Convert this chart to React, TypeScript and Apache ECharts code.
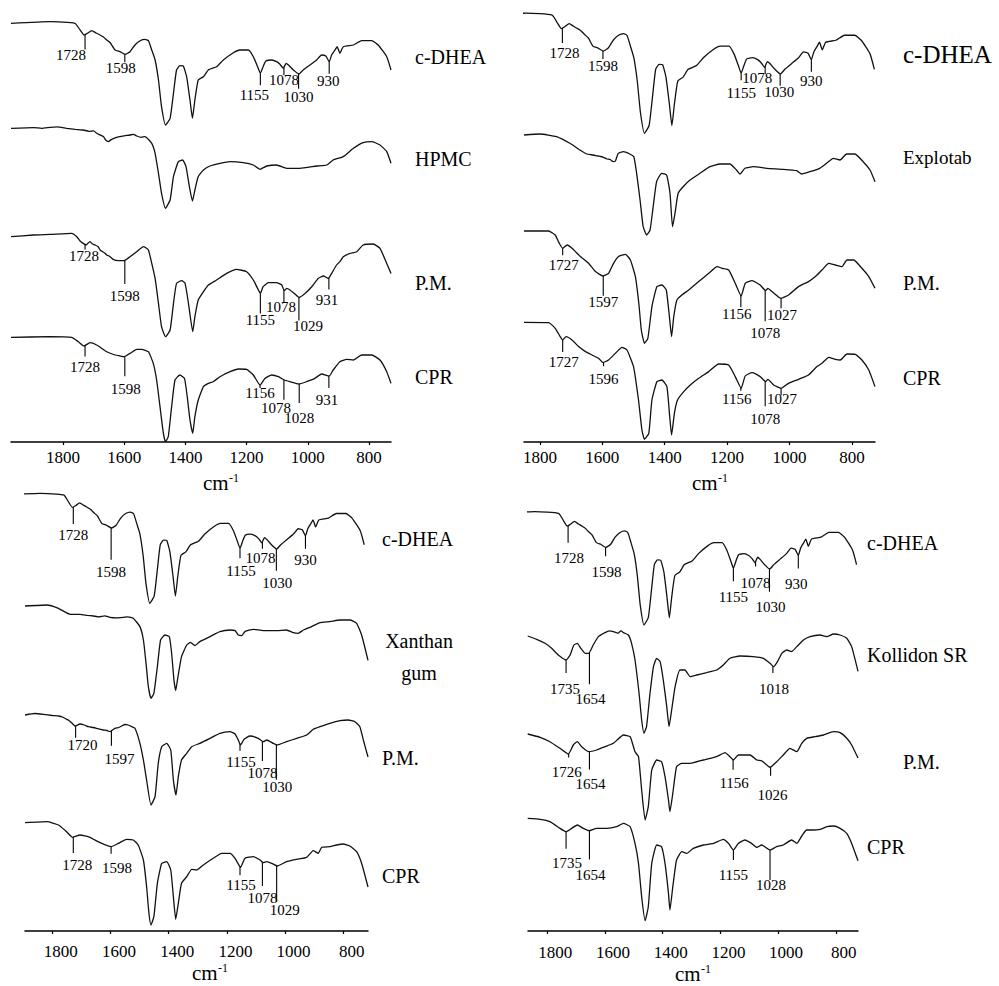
import React, { useEffect, useRef } from "react";
import * as echarts from "echarts";

type Pt = [number, number];
type Peak = [number, number, number, number]; // wavenumber, line length, label dx, label dy

// x tick labels (cm-1)
const TICKS = [1800, 1600, 1400, 1200, 1000, 800];

// Spectra: [wavenumber cm-1, transmittance a.u. (0 = deepest band of the trace)]
const C_DHEA: Pt[] = [[1970,101.7],[1842,103.3],[1761,101.7],[1744,95],[1731,90],[1720,91.7],[1706,94.3],[1692,92],[1679,90],[1668,88],[1657,85],[1645,82],[1630,75],[1614,73.3],[1597,70.7],[1581,73.3],[1565,80],[1548,84.3],[1532,85.7],[1521,84.3],[1510,75],[1499,65],[1488,45],[1478,18.3],[1465,0],[1450,6.7],[1439,31.7],[1429,55],[1418,59.3],[1407,59],[1396,48.3],[1385,25],[1377,6.7],[1369,25],[1358,45],[1341,48.3],[1325,55],[1298,58.3],[1276,65],[1243,72.3],[1222,75],[1194,75],[1178,68.3],[1164,58.3],[1155,51.7],[1146,58.3],[1137,64],[1118,65],[1102,63.3],[1091,60.7],[1080,56.7],[1071,61.7],[1063,60],[1047,55],[1029,51],[1015,55],[993,60],[971,65],[955,70],[941,69],[930,63.3],[922,70],[911,75],[904,78.3],[895,71.7],[884,78.3],[851,80],[824,84.3],[791,84.3],[770,80],[742,68.3],[728,55]];

const HPMC: Pt[] = [[1970,80],[1897,80.7],[1870,80],[1842,81],[1820,81.5],[1788,80],[1760,79],[1734,78.3],[1715,77],[1700,77.5],[1690,75],[1668,71.7],[1660,68],[1652,66.7],[1641,69],[1625,71],[1614,71.7],[1600,72.5],[1581,73.3],[1570,74],[1559,72.3],[1545,71],[1532,71.7],[1510,65],[1499,55],[1488,35],[1478,15],[1465,0],[1450,8.3],[1439,31.7],[1423,46.7],[1409,48.3],[1398,41.7],[1387,21.7],[1377,7.3],[1369,18.3],[1358,31.7],[1341,38.3],[1320,42.3],[1287,45],[1254,46.7],[1211,45.7],[1178,43.3],[1156,39],[1134,42.3],[1102,43.3],[1069,40],[1026,40],[971,42.3],[938,43.3],[917,48.3],[884,51.7],[851,60],[819,65.7],[791,66.7],[764,63.3],[742,56.7],[728,45]];

const PM_HPMC: Pt[] = [[1970,100],[1897,101.7],[1842,102.3],[1772,103.3],[1755,100],[1745,96],[1734,93.3],[1725,91.7],[1712,95],[1705,93],[1695,91.7],[1685,90],[1679,86.7],[1665,84],[1657,81.7],[1648,80.5],[1636,77.3],[1619,76],[1601,76],[1581,80],[1559,85],[1537,90],[1521,86.7],[1510,73.3],[1499,58.3],[1488,33.3],[1478,10],[1465,0],[1450,6.7],[1439,33.3],[1429,53.3],[1412,56],[1401,53.3],[1390,33.3],[1376,5],[1369,20],[1358,36.7],[1341,45],[1325,51.7],[1298,56.7],[1265,63.3],[1233,67.3],[1200,65],[1178,56.7],[1164,48.3],[1155,43.3],[1146,50],[1129,54],[1102,54],[1085,51.7],[1077,46],[1069,48.3],[1058,46.7],[1042,42.7],[1029,39.3],[1009,43.3],[987,50],[966,58.3],[949,60.7],[933,58.3],[922,63.3],[906,71.7],[895,75],[884,80],[862,83.3],[840,85],[819,91.7],[786,92.7],[764,88.3],[742,73.3],[728,63.3]];

const CPR_HPMC: Pt[] = [[1970,104.3],[1842,105],[1772,104.3],[1750,100],[1731,95.7],[1712,99],[1690,96.7],[1657,90],[1630,86.7],[1614,85.7],[1600,85],[1581,88.3],[1559,92.3],[1543,92.3],[1521,90],[1505,78.3],[1494,61.7],[1483,35],[1472,8.3],[1465,0],[1456,5],[1445,35],[1434,61.7],[1418,66.7],[1403,63.3],[1394,45],[1385,21.7],[1376,8.3],[1369,25],[1358,41.7],[1341,55],[1325,58.3],[1309,60],[1287,65],[1254,70],[1227,72.7],[1200,72.3],[1178,66.7],[1156,56.7],[1140,63.3],[1118,66.7],[1096,65],[1077,61.7],[1058,60],[1029,57.7],[1004,60],[977,63.3],[955,67.7],[930,65.7],[917,71.7],[895,80],[873,82.3],[851,81.7],[824,86.7],[791,86.7],[764,81.7],[742,70],[728,58.3]];

const EXPLOTAB: Pt[] = [[1851,100],[1800,101],[1747,98.3],[1704,91.7],[1672,85],[1650,81],[1629,80],[1615,79],[1605,78.5],[1597,77.7],[1585,76],[1575,75.5],[1565,73.3],[1558,74],[1549,81.7],[1533,83.3],[1512,81],[1499,78.3],[1490,61.7],[1479,35],[1469,8.3],[1458,0],[1447,5],[1437,28.3],[1426,53.3],[1410,61.7],[1394,60],[1383,41.7],[1375,8.3],[1367,21.7],[1357,41.7],[1341,48.3],[1319,55],[1287,61.7],[1255,68.3],[1223,71],[1191,71],[1170,65],[1159,61],[1143,66.7],[1116,68.3],[1073,66.7],[1020,65.7],[977,64.3],[961,61],[935,63.3],[903,66.7],[881,71.7],[860,76.7],[838,75],[817,81],[790,81],[764,73.3],[742,65],[726,53.3]];

const PM_EXPLOTAB: Pt[] = [[1851,112.3],[1772,112.3],[1751,108.3],[1738,100],[1727,95],[1713,98.3],[1697,95],[1670,86.7],[1644,80],[1622,71.7],[1598,67.3],[1580,70],[1564,80],[1548,86.7],[1526,89],[1510,83.3],[1494,66.7],[1483,40],[1475,13.3],[1465,0],[1454,5],[1441,36.7],[1425,56.7],[1409,58.3],[1395,53.3],[1385,26.7],[1378,6.7],[1371,26.7],[1361,43.3],[1345,48.3],[1323,53.3],[1291,61.7],[1259,70],[1232,76.7],[1216,75],[1195,73.3],[1174,60],[1155,47.3],[1142,60],[1120,62.7],[1094,58.3],[1077,52.7],[1069,55],[1056,51.7],[1027,45],[1003,48.3],[971,56.7],[939,61.7],[917,66.7],[896,73.3],[874,80],[853,78.3],[832,76.7],[816,83.3],[794,83.3],[768,75],[746,66.7],[726,55]];

const CPR_EXPLOTAB: Pt[] = [[1851,117],[1772,116.7],[1751,111],[1735,102.7],[1727,99.3],[1716,102.7],[1697,99.3],[1676,92.7],[1654,87.7],[1633,84.3],[1612,81],[1598,76.7],[1580,79.3],[1558,86],[1537,92],[1521,89.3],[1500,72.7],[1484,39.3],[1473,9.3],[1465,0],[1451,6],[1441,39.3],[1425,57.7],[1409,59.3],[1393,52.7],[1384,22.7],[1378,4.3],[1369,26],[1359,39.3],[1339,47.7],[1318,54.3],[1291,61],[1259,67.7],[1227,75.3],[1195,74.3],[1174,62.7],[1155,51],[1142,63.3],[1120,66.7],[1094,62.7],[1077,57.7],[1069,60],[1051,54.3],[1027,51],[1003,56],[971,60],[939,64.3],[912,72.7],[896,76],[874,82],[853,80],[837,79.3],[816,85.3],[789,85],[768,79.3],[746,69.3],[726,52.7]];

const XANTHAN: Pt[] = [[1894,92.3],[1819,93.3],[1779,90],[1739,84],[1705,84],[1680,83],[1659,82.3],[1640,81.5],[1620,82.5],[1602,81],[1580,80.5],[1556,81],[1540,81.5],[1522,80],[1499,71.7],[1487,58.3],[1478,35],[1470,11.7],[1461,0],[1451,5],[1439,31.7],[1428,58.3],[1413,63.3],[1398,61.7],[1390,45],[1382,18.3],[1376,7.7],[1370,18.3],[1356,41.7],[1338,53.3],[1325,56],[1310,52.7],[1293,56.7],[1258,61.7],[1224,66.7],[1189,68.3],[1172,67.7],[1161,63.3],[1149,62.7],[1138,66.7],[1109,69],[1075,67.7],[1029,67.7],[995,68.3],[972,65.7],[955,65],[937,68.3],[909,71.7],[880,75.7],[846,76.7],[811,78.3],[777,78.3],[754,75],[737,63.3],[715,38]];

const PM_XANTHAN: Pt[] = [[1894,90],[1860,91.5],[1831,90.7],[1800,89.5],[1779,89],[1765,88],[1751,85.7],[1745,85],[1734,82.3],[1722,79],[1705,81],[1690,80],[1676,78.3],[1660,77.5],[1648,76.7],[1625,75],[1612,74.5],[1602,73.3],[1585,76.7],[1572,77.5],[1562,79],[1550,80.5],[1539,80],[1528,78.5],[1516,76.7],[1499,61.7],[1487,45],[1476,25],[1461,0],[1447,8.3],[1436,41.7],[1424,58.3],[1407,61.7],[1393,55],[1384,25],[1375,10],[1367,28.3],[1356,45],[1338,51.7],[1321,58.3],[1293,61.7],[1258,66.7],[1224,71.7],[1189,73.3],[1172,71],[1161,65],[1153,60],[1141,65.7],[1121,69],[1092,66.7],[1075,63.3],[1063,65],[1041,61.7],[1027,60],[995,63.3],[960,66.7],[926,70],[903,75.7],[880,78.3],[846,81.7],[811,84.3],[783,85],[760,83.3],[743,78.3],[731,65],[715,48]];

const CPR_XANTHAN: Pt[] = [[1894,102.3],[1819,103.3],[1779,100],[1751,93.3],[1730,87.7],[1705,90],[1671,87.7],[1636,82.3],[1598,78.3],[1573,81.7],[1545,85.7],[1522,85],[1505,80],[1487,65],[1476,38.3],[1468,11.7],[1461,0],[1451,8.3],[1439,41.7],[1424,61.7],[1407,63.3],[1393,55],[1384,28.3],[1376,5.7],[1367,21.7],[1356,41.7],[1338,48.3],[1321,55.7],[1304,55],[1281,60],[1247,66.7],[1218,71.7],[1189,71.7],[1172,66.7],[1153,57.7],[1138,66.7],[1109,68.3],[1086,65],[1075,62.3],[1063,63.3],[1046,61.7],[1027,59],[995,63.3],[960,65.7],[926,67.7],[903,74.3],[886,71.7],[874,77.7],[846,78.3],[823,80],[800,81],[777,79],[754,73.3],[737,61.7],[715,38]];

const KOLLIDON: Pt[] = [[1868,97.3],[1837,94],[1808,90],[1785,85],[1762,78.3],[1735,73.3],[1721,78.3],[1708,88.3],[1696,90],[1684,85],[1669,80],[1656,80],[1641,88.3],[1623,96.7],[1600,100.7],[1585,102.5],[1571,101.7],[1555,100],[1545,102.5],[1536,100.7],[1519,98.3],[1508,90],[1496,73.3],[1482,40],[1473,13.3],[1465,0],[1456,6.7],[1444,40],[1432,66.7],[1421,75],[1409,71.7],[1398,53.3],[1386,26.7],[1378,6.7],[1369,23.3],[1357,46.7],[1340,63.3],[1323,63.3],[1305,56.7],[1282,58.3],[1248,60.7],[1213,63.3],[1190,68.3],[1167,75],[1132,77.3],[1086,76.7],[1051,75],[1028,70],[1016,66.7],[1002,71.7],[987,80],[970,83.3],[953,81.7],[935,86.7],[912,93.3],[889,96.7],[855,98.3],[831,96.7],[808,99.3],[785,98.3],[762,95],[745,86.7],[723,62]];

const PM_KOLLIDON: Pt[] = [[1868,86],[1825,82.7],[1791,78.3],[1756,71.7],[1727,66],[1710,75],[1696,78.3],[1681,73.3],[1656,68.3],[1629,70],[1600,73.3],[1571,76.7],[1536,85],[1513,83.3],[1496,68.3],[1484,63.3],[1473,30],[1461,0],[1450,13.3],[1438,50],[1421,60],[1404,58.3],[1392,43.3],[1380,20],[1375,8.3],[1365,26.7],[1352,53.3],[1334,56.7],[1305,56.7],[1259,60],[1213,63.3],[1184,67.3],[1167,63.3],[1155,60],[1138,65],[1120,65],[1097,65],[1074,60],[1057,59.3],[1028,52.7],[1005,58.3],[982,65],[959,71.7],[935,68.3],[918,76.7],[901,81.7],[872,83.3],[843,85],[808,88.3],[785,87.3],[762,81.7],[745,75],[723,62]];

const CPR_KOLLIDON: Pt[] = [[1868,102.3],[1825,101.3],[1791,99],[1756,92.3],[1735,89],[1716,92.3],[1696,95.7],[1675,92.3],[1656,90],[1629,92.3],[1594,92.3],[1560,94],[1536,97.3],[1513,94],[1496,77.3],[1484,57.3],[1473,24],[1461,0],[1450,14],[1438,57.3],[1421,75.7],[1404,74],[1392,57.3],[1380,27.3],[1375,10.7],[1365,34],[1352,60.7],[1334,69],[1317,67.3],[1294,72.3],[1259,75.7],[1224,77.3],[1190,81.3],[1172,77.3],[1155,70.7],[1138,77.3],[1115,80.7],[1092,77.3],[1074,73.3],[1057,75.7],[1028,70.7],[1005,74],[982,75.7],[953,80.7],[935,77.3],[918,84.7],[901,90.7],[878,90.7],[855,91.3],[831,94],[808,94.7],[785,92.3],[762,87.3],[745,77.3],[723,60]];

// Peak annotations: [wavenumber, line length px, label dx px, label dy px]
const PK_DHEA_A: Peak[] = [[1728,15,-14,20],[1598,8,-4,14],[1155,12,-6,22],[1078,8,0,13],[1030,15,0,23],[930,12,-1,19]];
const PK_PM_A: Peak[] = [[1728,5,-1,12],[1598,24,0,36],[1155,20,0,27],[1078,12,-3,17],[1029,23,9,29],[931,12,-2,23]];
const PK_CPR_A: Peak[] = [[1728,11,0,22],[1598,20,1,33],[1156,3,0,8],[1078,20,-8,28],[1028,19,0,34],[931,12,-2,24]];
const PK_DHEA_B: Peak[] = [[1728,15,2,25],[1598,8,0,15],[1155,7,0,20],[1078,8,-8,12],[1030,12,-1,18],[930,12,0,21]];
const PK_PM_B: Peak[] = [[1727,7,1,17],[1597,20,0,26],[1156,12,-4,19],[1078,31,0,43],[1027,10,1,17]];
const PK_CPR_B: Peak[] = [[1727,12,1,22],[1596,4,0,17],[1156,3,-4,11],[1078,25,0,38],[1027,7,1,11]];
const PK_DHEA_C: Peak[] = [[1728,17,0,28],[1598,32,0,44],[1155,10,1,23],[1078,7,-2,16],[1030,22,1,34],[930,13,0,24]];
const PK_PM_C: Peak[] = [[1720,12,7,19],[1597,15,8,28],[1155,7,1,18],[1078,20,0,32],[1030,35,1,42]];
const PK_CPR_C: Peak[] = [[1728,16,4,28],[1598,7,6,21],[1155,9,1,19],[1078,24,0,36],[1029,36,8,44]];
const PK_DHEA_D: Peak[] = [[1728,17,1,32],[1598,9,1,25],[1155,13,0,29],[1078,5,0,21],[1030,23,1,38],[930,13,-2,29]];
const PK_KOL_D: Peak[] = [[1735,13,-1,29],[1654,32,1,47],[1018,7,1,23]];
const PK_PM_D: Peak[] = [[1726,4,-2,19],[1654,18,1,32],[1156,10,1,23],[1026,9,2,28]];
const PK_CPR_D: Peak[] = [[1735,17,1,31],[1654,29,1,44],[1155,10,0,25],[1028,30,1,35]];

const NAMES_A = ["c-DHEA", "HPMC", "P.M.", "CPR"];
const NAMES_B = ["c-DHEA", "Explotab", "P.M.", "CPR"];
const NAMES_C = ["c-DHEA", "Xanthan\ngum", "P.M.", "CPR"];
const NAMES_D = ["c-DHEA", "Kollidon SR", "P.M.", "CPR"];

const FONT = "Liberation Serif";

type Trace = { data: Pt[]; base: number; scale: number; peaks: Peak[] };
type Panel = {
  grid: { left: number; top: number; width: number; height: number };
  xMin: number; xMax: number; labelMargin: number; labelShift: number;
  traces: Trace[];
  names: string[];
  namePos: { x: number; y: number; size: number; center?: boolean }[];
  unit: { x: number; y: number };
};

const PANELS: Panel[] = [
  {
    grid: { left: 11, top: 0, width: 380, height: 442 }, xMin: 728, xMax: 1970, labelMargin: 7, labelShift: 0,
    traces: [
      { data: C_DHEA, base: 317, scale: 1, peaks: PK_DHEA_A },
      { data: HPMC, base: 233.7, scale: 1, peaks: [] },
      { data: PM_HPMC, base: 105.3, scale: 1, peaks: PK_PM_A },
      { data: CPR_HPMC, base: 0.3, scale: 1, peaks: PK_CPR_A },
    ],
    names: NAMES_A,
    namePos: [{ x: 415, y: 57, size: 20 }, { x: 415, y: 159, size: 20 }, { x: 415, y: 283, size: 20 }, { x: 415, y: 377, size: 20 }],
    unit: { x: 203, y: 483 },
  },
  {
    grid: { left: 524, top: 0, width: 351, height: 442 }, xMin: 726, xMax: 1851, labelMargin: 7, labelShift: 0,
    traces: [
      { data: C_DHEA, base: 308.7, scale: 1.163, peaks: PK_DHEA_B },
      { data: EXPLOTAB, base: 207, scale: 1, peaks: [] },
      { data: PM_EXPLOTAB, base: 98.7, scale: 1, peaks: PK_PM_B },
      { data: CPR_EXPLOTAB, base: 2.7, scale: 1, peaks: PK_CPR_B },
    ],
    names: NAMES_B,
    namePos: [{ x: 903, y: 54, size: 25 }, { x: 903, y: 157, size: 19 }, { x: 903, y: 283, size: 20 }, { x: 903, y: 378, size: 20 }],
    unit: { x: 692, y: 483 },
  },
  {
    grid: { left: 25, top: 485, width: 343, height: 446 }, xMin: 715, xMax: 1894, labelMargin: 12, labelShift: 17,
    traces: [
      { data: C_DHEA, base: 327.7, scale: 1.065, peaks: PK_DHEA_C },
      { data: XANTHAN, base: 232.7, scale: 1, peaks: [] },
      { data: PM_XANTHAN, base: 126, scale: 1, peaks: PK_PM_C },
      { data: CPR_XANTHAN, base: 6, scale: 1, peaks: PK_CPR_C },
    ],
    names: NAMES_C,
    namePos: [{ x: 382, y: 539, size: 20 }, { x: 419, y: 657, size: 20, center: true }, { x: 382, y: 758, size: 20 }, { x: 382, y: 876, size: 20 }],
    unit: { x: 192, y: 973 },
  },
  {
    grid: { left: 528, top: 485, width: 330, height: 446 }, xMin: 723, xMax: 1867, labelMargin: 13, labelShift: 16,
    traces: [
      { data: C_DHEA, base: 306, scale: 1.098, peaks: PK_DHEA_D },
      { data: KOLLIDON, base: 197.7, scale: 1, peaks: PK_KOL_D },
      { data: PM_KOLLIDON, base: 111, scale: 1, peaks: PK_PM_D },
      { data: CPR_KOLLIDON, base: 10.3, scale: 1, peaks: PK_CPR_D },
    ],
    names: NAMES_D,
    namePos: [{ x: 867, y: 543, size: 20 }, { x: 867, y: 655, size: 20 }, { x: 903, y: 762, size: 20 }, { x: 867, y: 847, size: 20 }],
    unit: { x: 675, y: 974 },
  },
];

function interp(data: Pt[], wn: number): number {
  const d = [...data].sort((a, b) => b[0] - a[0]);
  for (let i = 0; i < d.length - 1; i++) {
    const [x1, y1] = d[i];
    const [x2, y2] = d[i + 1];
    if (wn <= x1 && wn >= x2) {
      const t = x1 === x2 ? 0 : (x1 - wn) / (x1 - x2);
      return y1 + t * (y2 - y1);
    }
  }
  return d[d.length - 1][1];
}

function buildOption() {
  const grid: any[] = [];
  const xAxis: any[] = [];
  const yAxis: any[] = [];
  const series: any[] = [];
  const graphic: any[] = [];

  PANELS.forEach((p, pi) => {
    grid.push({ ...p.grid, containLabel: false });
    xAxis.push({
      type: "value", gridIndex: pi, min: p.xMin, max: p.xMax, inverse: true,
      axisLine: { show: true, lineStyle: { color: "#000", width: 1.5 } },
      axisTick: { show: true, length: 3, customValues: TICKS, lineStyle: { color: "#000", width: 1.2 } },
      axisLabel: {
        show: true, customValues: TICKS, margin: p.labelMargin, color: "#000",
        fontFamily: FONT, fontSize: 17, padding: [0, 0, 0, p.labelShift],
        formatter: (v: number) => String(v),
      },
      splitLine: { show: false },
    });
    yAxis.push({ type: "value", gridIndex: pi, min: 0, max: p.grid.height, show: false });

    p.traces.forEach((t) => {
      series.push({
        type: "line", xAxisIndex: pi, yAxisIndex: pi, silent: true,
        data: t.data.map(([w, T]) => [w, t.base + t.scale * T]),
        showSymbol: false, symbol: "none", smooth: 0.15,
        lineStyle: { color: "#111", width: 1.3 },
      });
      if (t.peaks.length) {
        series.push({
          type: "custom", xAxisIndex: pi, yAxisIndex: pi, silent: true, clip: false,
          data: t.peaks.map(([w, len, dx, dy]) => [w, t.base + t.scale * interp(t.data, w), len, dx, dy]),
          renderItem: (params: any, api: any) => {
            const w = api.value(0);
            const pt = api.coord([w, api.value(1)]);
            const len = api.value(2), dx = api.value(3), dy = api.value(4);
            return {
              type: "group",
              children: [
                { type: "line", shape: { x1: pt[0], y1: pt[1], x2: pt[0], y2: pt[1] + len }, style: { stroke: "#000", lineWidth: 1.1 } },
                {
                  type: "text", x: pt[0] + dx, y: pt[1] + dy,
                  style: {
                    text: String(w), fill: "#000", fontFamily: FONT, fontSize: 15,
                    align: "center", verticalAlign: "middle", textAlign: "center", textVerticalAlign: "middle",
                  },
                },
              ],
            };
          },
        });
      }
    });

    p.names.forEach((n, i) => {
      const np = p.namePos[i];
      graphic.push({
        type: "text", x: np.x, y: np.y, silent: true,
        style: {
          text: n, fill: "#000", fontFamily: FONT, fontSize: np.size, lineHeight: 32,
          align: np.center ? "center" : "left", textAlign: np.center ? "center" : "left",
          verticalAlign: "middle", textVerticalAlign: "middle",
        },
      });
    });
    graphic.push({
      type: "text", x: p.unit.x, y: p.unit.y, silent: true,
      style: { text: "cm", fill: "#000", fontFamily: FONT, fontSize: 21, align: "left", textAlign: "left", verticalAlign: "middle", textVerticalAlign: "middle" },
    });
    graphic.push({
      type: "text", x: p.unit.x + 26, y: p.unit.y - 5, silent: true,
      style: { text: "-1", fill: "#000", fontFamily: FONT, fontSize: 12, align: "left", textAlign: "left", verticalAlign: "middle", textVerticalAlign: "middle" },
    });
  });

  return {
    animation: false,
    backgroundColor: "#fff",
    textStyle: { fontFamily: FONT },
    grid, xAxis, yAxis, series, graphic,
  };
}

export default function App() {
  const ref = useRef<HTMLDivElement>(null);
  useEffect(() => {
    if (!ref.current) return;
    const chart = echarts.init(ref.current, undefined, { renderer: "svg" });
    chart.setOption(buildOption() as any);
    return () => chart.dispose();
  }, []);
  return <div ref={ref} style={{ position: "absolute", left: 0, top: 0, width: 999, height: 986, background: "#fff" }} />;
}
